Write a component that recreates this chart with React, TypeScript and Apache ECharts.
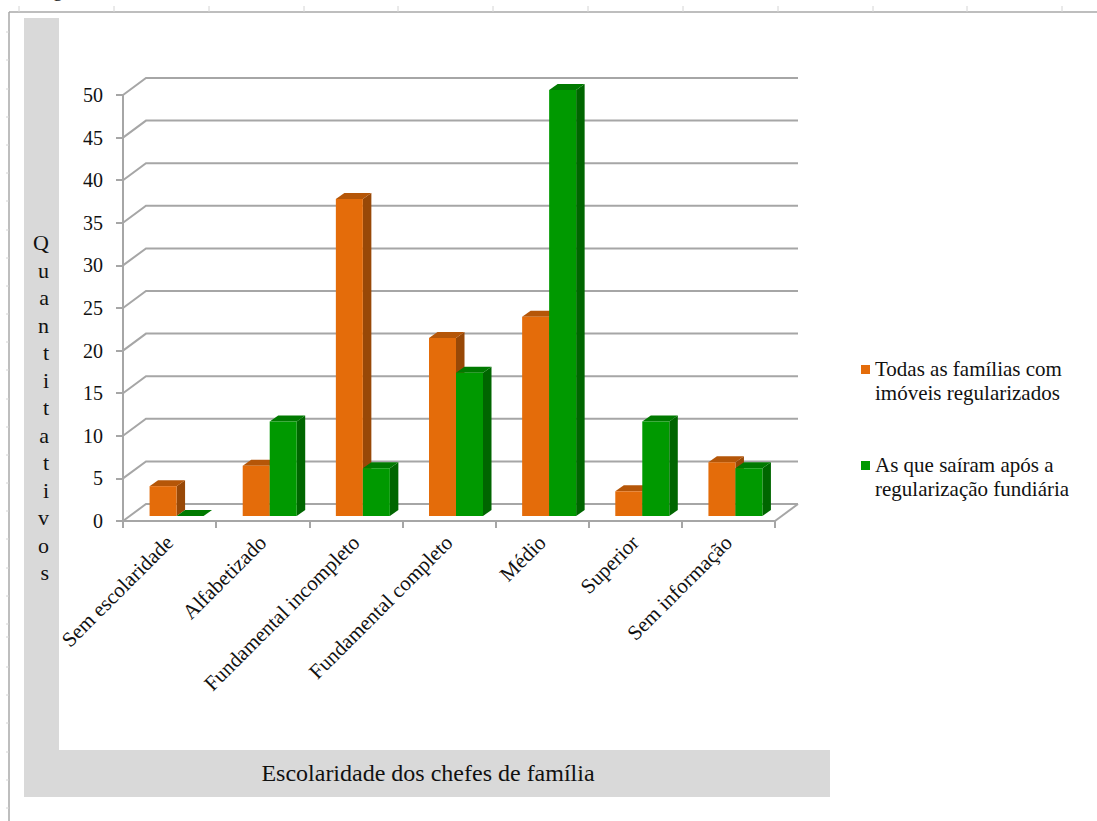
import React, { useEffect, useRef } from "react";
import * as echarts from "echarts";

const categories = ["Sem escolaridade", "Alfabetizado", "Fundamental incompleto", "Fundamental completo", "Médio", "Superior", "Sem informação"];
const familiasRegularizadas = [3.5, 5.9, 37.2, 20.9, 23.4, 2.9, 6.3];
const sairamAposRegularizacao = [0, 11.1, 5.6, 16.8, 50, 11.1, 5.6];
const yTicks = [0, 5, 10, 15, 20, 25, 30, 35, 40, 45, 50];
const seriesNames = ["Todas as famílias com\nimóveis regularizados", "As que saíram após a\nregularização fundiária"];
const yAxisName = "Quantitativos".split("").join("\n");
const xAxisName = "Escolaridade dos chefes de família";
const croppedHeading = "Figura";
const rulerTop = [19, 114, 209, 304, 398, 493, 588, 683, 778, 873, 967, 1062];
const rulerLeft = [32, 60, 89, 117, 145, 173, 201, 230, 258, 286, 314, 342, 370, 399, 427, 455, 483, 511, 539, 568, 596, 624, 637, 667, 695, 723, 752, 780, 808];

const FONT = "'Liberation Serif', 'Times New Roman', serif";
const DEPTH_X = 23;
const DEPTH_Y = 17;
const BAR_W = 27;
const BAR_DX = 7;
const BAR_DY = 5;
const BAR_DEPTH_X = 8.5;
const BAR_DEPTH_Y = 6;
const GRID_COLOR = "#a6a6a6";

function wallItem(params: any, api: any) {
  const cs = params.coordSys;
  const y = api.coord([0, api.value(0)])[1];
  const x0 = cs.x;
  const x1 = cs.x + cs.width;
  const children: any[] = [
    {
      type: "polyline",
      shape: { points: [[x0, y], [x0 + DEPTH_X, y - DEPTH_Y], [x1 + DEPTH_X, y - DEPTH_Y]] },
      style: { stroke: GRID_COLOR, lineWidth: 2, fill: "none" },
    },
  ];
  if (api.value(0) === 0) {
    children.push({
      type: "line",
      shape: { x1: x1, y1: y, x2: x1 + DEPTH_X, y2: y - DEPTH_Y },
      style: { stroke: GRID_COLOR, lineWidth: 2 },
    });
  }
  return { type: "group", children };
}

function barItem(side: number, front: string, top: string, right: string) {
  return (_params: any, api: any) => {
    const catIdx = api.value(0);
    const p0 = api.coord([catIdx, 0]);
    const p1 = api.coord([catIdx, api.value(1)]);
    const cx = p0[0] + BAR_DX;
    const x0 = side < 0 ? cx - BAR_W : cx;
    const x1 = x0 + BAR_W;
    const yb = p0[1] - BAR_DY;
    const yt = p1[1] - BAR_DY;
    return {
      type: "group",
      children: [
        { type: "polygon", shape: { points: [[x1, yb], [x1 + BAR_DEPTH_X, yb - BAR_DEPTH_Y], [x1 + BAR_DEPTH_X, yt - BAR_DEPTH_Y], [x1, yt]] }, style: { fill: right } },
        { type: "polygon", shape: { points: [[x0, yt], [x0 + BAR_DEPTH_X, yt - BAR_DEPTH_Y], [x1 + BAR_DEPTH_X, yt - BAR_DEPTH_Y], [x1, yt]] }, style: { fill: top } },
        { type: "rect", shape: { x: x0, y: yt, width: BAR_W, height: yb - yt }, style: { fill: front } },
      ],
    };
  };
}

export default function App() {
  const ref = useRef<HTMLDivElement>(null);
  useEffect(() => {
    const chart = echarts.init(ref.current!, null, { renderer: "svg" });
    const rulerMarks: any[] = [
      ...rulerTop.map((x) => ({ type: "line", shape: { x1: x, y1: 6, x2: x, y2: 12 }, style: { stroke: "#d4d4d4", lineWidth: 1 } })),
      ...rulerLeft.map((y) => ({ type: "line", shape: { x1: 6, y1: y, x2: 9, y2: y }, style: { stroke: "#d4d4d4", lineWidth: 1 } })),
    ];
    chart.setOption({
      animation: false,
      backgroundColor: "#ffffff",
      textStyle: { fontFamily: FONT },
      graphic: {
        elements: [
          { type: "text", z: -2, x: 36, y: -1, style: { text: croppedHeading, font: `20px ${FONT}`, fill: "#222", verticalAlign: "bottom", textVerticalAlign: "bottom" } },
          { type: "line", z: -2, shape: { x1: 9, y1: 12, x2: 1097, y2: 12 }, style: { stroke: "#a8a8a8", lineWidth: 1.5 } },
          { type: "line", z: -2, shape: { x1: 9, y1: 12, x2: 9, y2: 821 }, style: { stroke: "#a8a8a8", lineWidth: 1.5 } },
          ...rulerMarks.map((m) => ({ ...m, z: -2 })),
          { type: "rect", z: -1, shape: { x: 24, y: 18, width: 35, height: 779 }, style: { fill: "#d9d9d9" } },
          { type: "rect", z: -1, shape: { x: 24, y: 750, width: 806, height: 47 }, style: { fill: "#d9d9d9" } },
        ],
      },
      legend: {
        orient: "vertical",
        left: 856,
        top: 352,
        itemGap: 48,
        itemWidth: 9,
        itemHeight: 48,
        data: [
          { name: seriesNames[0], icon: "path://M0 0h0 M0 8h9v9h-9z M9 48h0", itemStyle: { color: "#e46c0a" } },
          { name: seriesNames[1], icon: "path://M0 0h0 M0 8h9v9h-9z M9 48h0", itemStyle: { color: "#009900" } },
        ],
        textStyle: { fontFamily: FONT, fontSize: 21, lineHeight: 24, color: "#111", padding: [0, 0, 0, 0] },
      },
      grid: { left: 123, top: 95, width: 652, height: 426, containLabel: false },
      xAxis: {
        type: "category",
        data: categories,
        name: xAxisName,
        nameLocation: "middle",
        nameGap: 240,
        nameTextStyle: { fontFamily: FONT, fontSize: 24, color: "#111", padding: [0, 42, 0, 0] },
        axisLine: { lineStyle: { color: GRID_COLOR, width: 2 } },
        axisTick: { show: true, alignWithLabel: false, length: 7, lineStyle: { color: GRID_COLOR, width: 2 } },
        axisLabel: { rotate: 45, interval: 0, margin: 18, fontFamily: FONT, fontSize: 21, color: "#111" },
      },
      yAxis: {
        type: "value",
        min: 0,
        max: 50,
        interval: 5,
        name: yAxisName,
        nameLocation: "middle",
        nameRotate: 0,
        nameGap: 74,
        nameTextStyle: { fontFamily: FONT, fontSize: 22, lineHeight: 27.5, color: "#111", verticalAlign: "top", padding: [-79, 0, 0, 0] },
        axisLine: { show: true, lineStyle: { color: GRID_COLOR, width: 2 } },
        axisTick: { show: true, length: 7, lineStyle: { color: GRID_COLOR, width: 2 } },
        splitLine: { show: false },
        axisLabel: { margin: 20, fontFamily: FONT, fontSize: 20, color: "#111" },
      },
      series: [
        { type: "custom", name: "wall", silent: true, z: 1, encode: { y: 0 }, data: yTicks.map((v) => [v]), renderItem: wallItem, legendHoverLink: false },
        { type: "custom", name: seriesNames[0], z: 2, data: familiasRegularizadas.map((v, i) => [i, v]), encode: { x: 0, y: 1 }, renderItem: barItem(-1, "#e46c0a", "#b55608", "#984807"), itemStyle: { color: "#e46c0a" } },
        { type: "custom", name: seriesNames[1], z: 3, data: sairamAposRegularizacao.map((v, i) => [i, v]), encode: { x: 0, y: 1 }, renderItem: barItem(1, "#009900", "#007a00", "#006600"), itemStyle: { color: "#009900" } },
      ],
    });
    return () => chart.dispose();
  }, []);
  return <div ref={ref} style={{ position: "fixed", left: 0, top: 0, width: 1097, height: 821 }} />;
}
